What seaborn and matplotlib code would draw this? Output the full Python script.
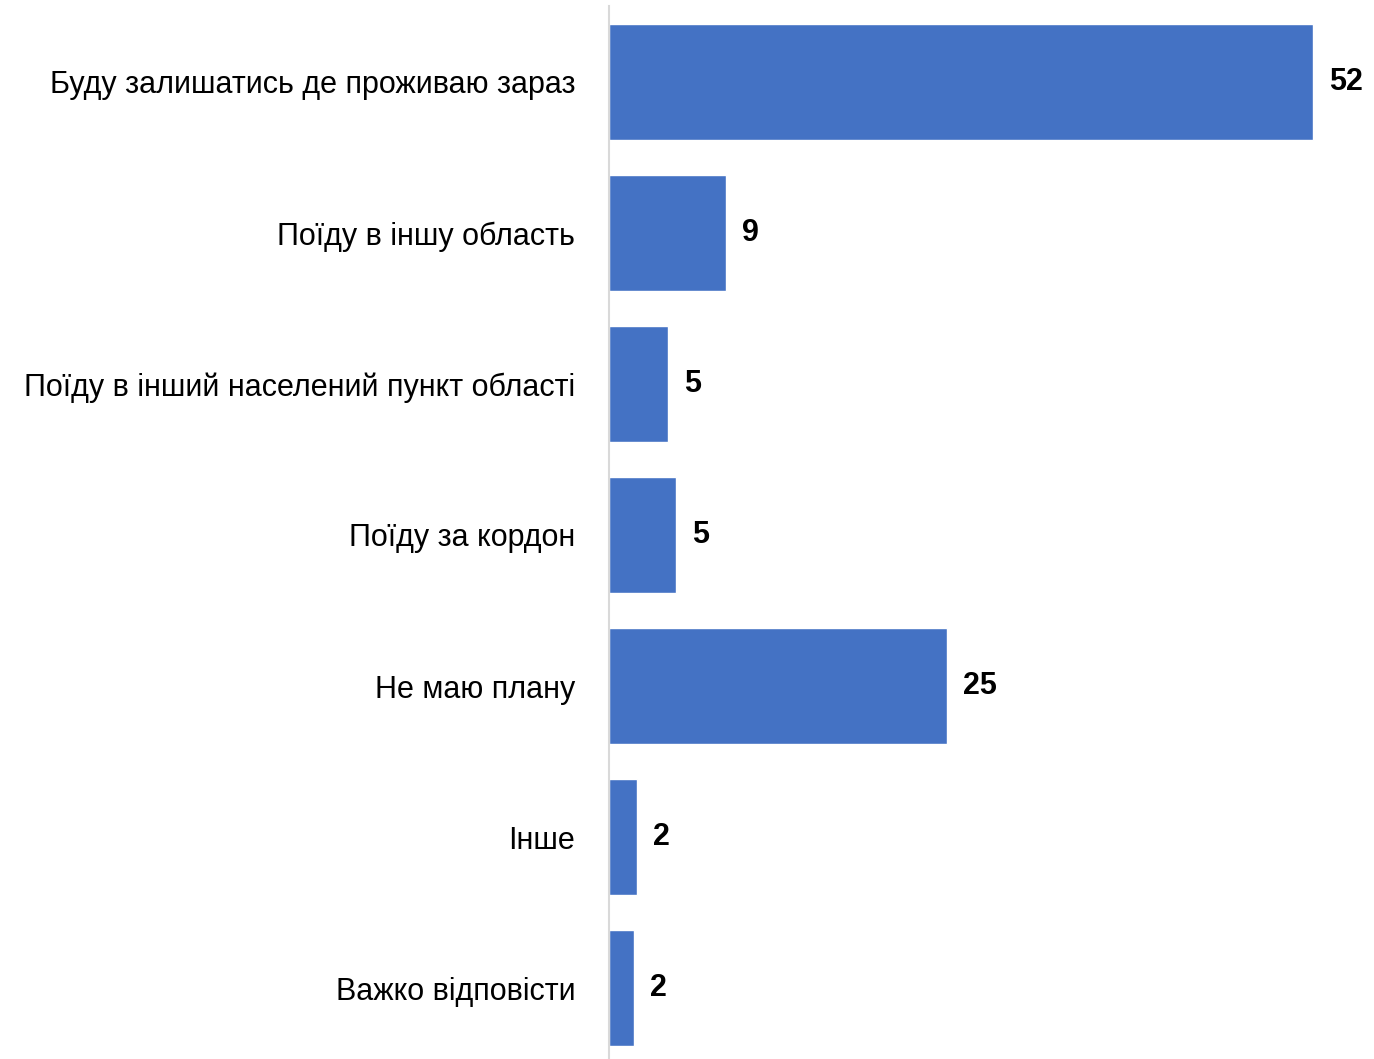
import matplotlib
matplotlib.use("Agg")
import matplotlib.pyplot as plt
import seaborn as sns
import pandas as pd
from matplotlib import font_manager

# -------- Data --------
categories = [
    "Буду залишатись де проживаю зараз",
    "Поїду в іншу область",
    "Поїду в інший населений пункт області",
    "Поїду за кордон",
    "Не маю плану",
    "Інше",
    "Важко відповісти",
]
values = [52.0, 8.7, 4.4, 4.95, 25.0, 2.1, 1.9]
value_labels = ["52", "9", "5", "5", "25", "2", "2"]

df = pd.DataFrame({"category": categories, "value": values})

# -------- Style --------
sns.set_style("white")
names = {f.name for f in font_manager.fontManager.ttflist}
font, size = "Liberation Sans", 22
for cand in ["Liberation Sans Narrow", "DejaVu Sans Condensed"]:
    if cand in names:
        font, size = cand, 24
        break
plt.rcParams["font.family"] = [font, "DejaVu Sans"]
plt.rcParams["text.color"] = "black"

fig = plt.figure(figsize=(13.74, 10.59), dpi=100)
ax = fig.add_axes([0.443, 0.0, 0.547, 0.9939])

sns.barplot(data=df, x="value", y="category", color="#4472C4", saturation=1,
            width=0.77, ax=ax)

ax.set_xlim(0, 55.5)
ax.set_ylim(6.47, -0.5)
ax.set_xlabel("")
ax.set_ylabel("")
ax.set_xticks([])
ax.tick_params(axis="y", length=0, pad=24, labelsize=size, labelcolor="black")

for s in ["top", "right", "bottom"]:
    ax.spines[s].set_visible(False)
ax.spines["left"].set_color("#D9D9D9")
ax.spines["left"].set_linewidth(1.5)

for i, (v, lab) in enumerate(zip(values, value_labels)):
    ax.annotate(lab, xy=(v, i), xytext=(16, 0), textcoords="offset pixels",
                va="center", ha="left", fontsize=size, fontweight="bold",
                color="black")

plt.savefig("out.png", dpi=100)
